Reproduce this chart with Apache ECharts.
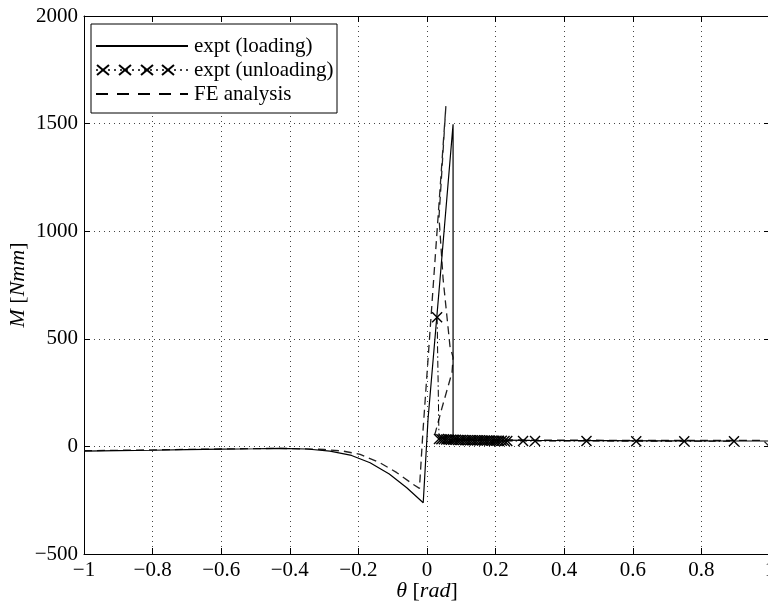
<!DOCTYPE html>
<html>
<head>
<meta charset="utf-8">
<script src="https://cdn.jsdelivr.net/npm/echarts@6/dist/echarts.min.js"></script>
<style>
html,body{margin:0;padding:0;background:#fff;}
#chart{width:768px;height:604px;}
</style>
</head>
<body>
<div id="chart"></div>
<script>
// ---- data (theta in rad, M in Nmm) ----
var loadingTheta = [-1, -0.9, -0.8, -0.7, -0.6, -0.5, -0.43, -0.35, -0.283, -0.22, -0.166, -0.11, -0.059, -0.011, 0.003, 0.038, 0.076, 0.076, 0.1, 0.3, 0.5, 0.7, 0.9, 1.0];
var loadingM     = [-22, -20, -18, -15, -13, -11, -9, -12, -22, -42, -76, -128, -192, -262, 126, 777, 1497, 40, 30, 28, 27, 26, 25, 25];

var unloadingTheta = [0.0295, 0.035, 0.042, 0.049, 0.056, 0.063, 0.070, 0.077, 0.084, 0.091, 0.098, 0.105, 0.112, 0.119, 0.126, 0.133, 0.140, 0.147, 0.154, 0.161, 0.168, 0.175, 0.182, 0.189, 0.196, 0.203, 0.210, 0.218, 0.226, 0.234, 0.28, 0.315, 0.465, 0.61, 0.75, 0.895];
var unloadingM     = [600, 34, 33, 33, 32, 32, 31, 31, 31, 30, 30, 30, 29, 29, 29, 28, 28, 28, 28, 27, 27, 27, 27, 26, 26, 26, 26, 26, 25, 25, 25, 25, 25, 24, 24, 24];

var feTheta = [-1, -0.8, -0.6, -0.43, -0.3, -0.244, -0.195, -0.137, -0.088, -0.04, -0.022, -0.012, 0.055, 0.035, 0.047, 0.067, 0.076, 0.073, 0.044, 0.023, 0.05, 0.1, 0.2, 0.4, 0.6, 0.8, 0.98, 1.0];
var feM     = [-20, -16, -12, -9, -14, -22, -37, -76, -122, -177, -195, 65, 1581, 1065, 777, 465, 414, 344, 181, 56, 36, 32, 30, 29, 28, 28, 28, -3];

var xTickLabels = ['\u22121', '\u22120.8', '\u22120.6', '\u22120.4', '\u22120.2', '0', '0.2', '0.4', '0.6', '0.8', '1'];
var yTickLabels = ['\u2212500', '0', '500', '1000', '1500', '2000'];
var legendNames = ['expt (loading)', 'expt (unloading)', 'FE analysis'];

function pairs(xs, ys) { return xs.map(function (x, i) { return [x, ys[i]]; }); }

var FONT = 'Liberation Serif';
var chart = echarts.init(document.getElementById('chart'), null, {renderer: 'canvas'});

var crossPath = 'path://M0,0.9 L0.9,0 L5,4.1 L9.1,0 L10,0.9 L5.9,5 L10,9.1 L9.1,10 L5,5.9 L0.9,10 L0,9.1 L4.1,5 Z';

function axisBase(min, max, interval, labels, show, pos) {
  return {
    type: 'value', min: min, max: max, interval: interval, position: pos,
    axisLine: {show: true, onZero: false, lineStyle: {color: '#000', width: 1}},
    axisTick: {show: true, inside: true, length: 6, lineStyle: {color: '#000'}},
    axisLabel: {
      show: show, color: '#000', fontFamily: FONT, fontSize: 21, margin: 6,
      formatter: function (v) { return labels[Math.round((v - min) / interval)]; }
    },
    splitLine: {show: show, lineStyle: {color: '#444', type: [1, 4], width: 1}}
  };
}

var xMain = axisBase(-1, 1, 0.2, xTickLabels, true, 'bottom');
xMain.name = '{i|\u03b8} [{i|rad}]';
xMain.nameLocation = 'middle';
xMain.nameGap = 26;
xMain.nameMoveOverlap = false;
xMain.nameTextStyle = {color: '#000', fontFamily: FONT, fontSize: 22,
  rich: {i: {fontStyle: 'italic', fontFamily: FONT, fontSize: 22, color: '#000'}}};
var xTop = axisBase(-1, 1, 0.2, xTickLabels, false, 'top');

var yMain = axisBase(-500, 2000, 500, yTickLabels, true, 'left');
yMain.name = '{i|M} [{i|Nmm}]';
yMain.nameLocation = 'middle';
yMain.nameGap = 55;
yMain.nameMoveOverlap = false;
yMain.nameRotate = 90;
yMain.nameTextStyle = {color: '#000', fontFamily: FONT, fontSize: 22,
  rich: {i: {fontStyle: 'italic', fontFamily: FONT, fontSize: 22, color: '#000'}}};
var yRight = axisBase(-500, 2000, 500, yTickLabels, false, 'right');

// legend drawn as graphic
var LX0 = 96, LX1 = 188, TX = 194;
var rows = [46, 70, 94];
var g = [];
g.push({type: 'rect', shape: {x: 91, y: 24, width: 246, height: 89},
  style: {fill: '#fff', stroke: '#000', lineWidth: 1}, z: 100});
g.push({type: 'line', shape: {x1: LX0, y1: rows[0], x2: LX1, y2: rows[0]},
  style: {stroke: '#000', lineWidth: 2}, z: 101});
g.push({type: 'line', shape: {x1: LX0, y1: rows[1], x2: LX1, y2: rows[1]},
  style: {stroke: '#000', lineWidth: 1.5, lineDash: [2, 4]}, z: 101});
[103, 125, 147, 168].forEach(function (cx) {
  g.push({type: 'line', shape: {x1: cx - 6, y1: rows[1] - 5, x2: cx + 6, y2: rows[1] + 5},
    style: {stroke: '#000', lineWidth: 2}, z: 102});
  g.push({type: 'line', shape: {x1: cx - 6, y1: rows[1] + 5, x2: cx + 6, y2: rows[1] - 5},
    style: {stroke: '#000', lineWidth: 2}, z: 102});
});
g.push({type: 'line', shape: {x1: LX0, y1: rows[2], x2: LX1, y2: rows[2]},
  style: {stroke: '#000', lineWidth: 2, lineDash: [12, 9]}, z: 101});
legendNames.forEach(function (n, i) {
  g.push({type: 'text', x: TX, y: rows[i], z: 103,
    style: {text: n, fill: '#000', font: '21px "Liberation Serif"', textVerticalAlign: 'middle', verticalAlign: 'middle'}});
});

var option = {
  animation: false,
  backgroundColor: '#fff',
  grid: {left: 84, right: -2, top: 16, bottom: 50, containLabel: false, outerBoundsMode: 'none'},
  xAxis: [xMain, xTop],
  yAxis: [yMain, yRight],
  graphic: g,
  series: [
    {name: legendNames[0], type: 'line', data: pairs(loadingTheta, loadingM),
      showSymbol: false, symbol: 'none', lineStyle: {color: '#000', width: 1.2}, z: 3},
    {name: legendNames[1], type: 'line', data: pairs(unloadingTheta, unloadingM),
      symbol: crossPath, symbolSize: 11, showAllSymbol: true,
      itemStyle: {color: '#000'},
      lineStyle: {color: '#000', width: 1, type: [7, 3, 1.5, 3]}, z: 4},
    {name: legendNames[2], type: 'line', data: pairs(feTheta, feM),
      showSymbol: false, symbol: 'none', lineStyle: {color: '#222', width: 1.3, type: [8, 5]}, z: 2}
  ]
};
chart.setOption(option);
</script>
</body>
</html>
